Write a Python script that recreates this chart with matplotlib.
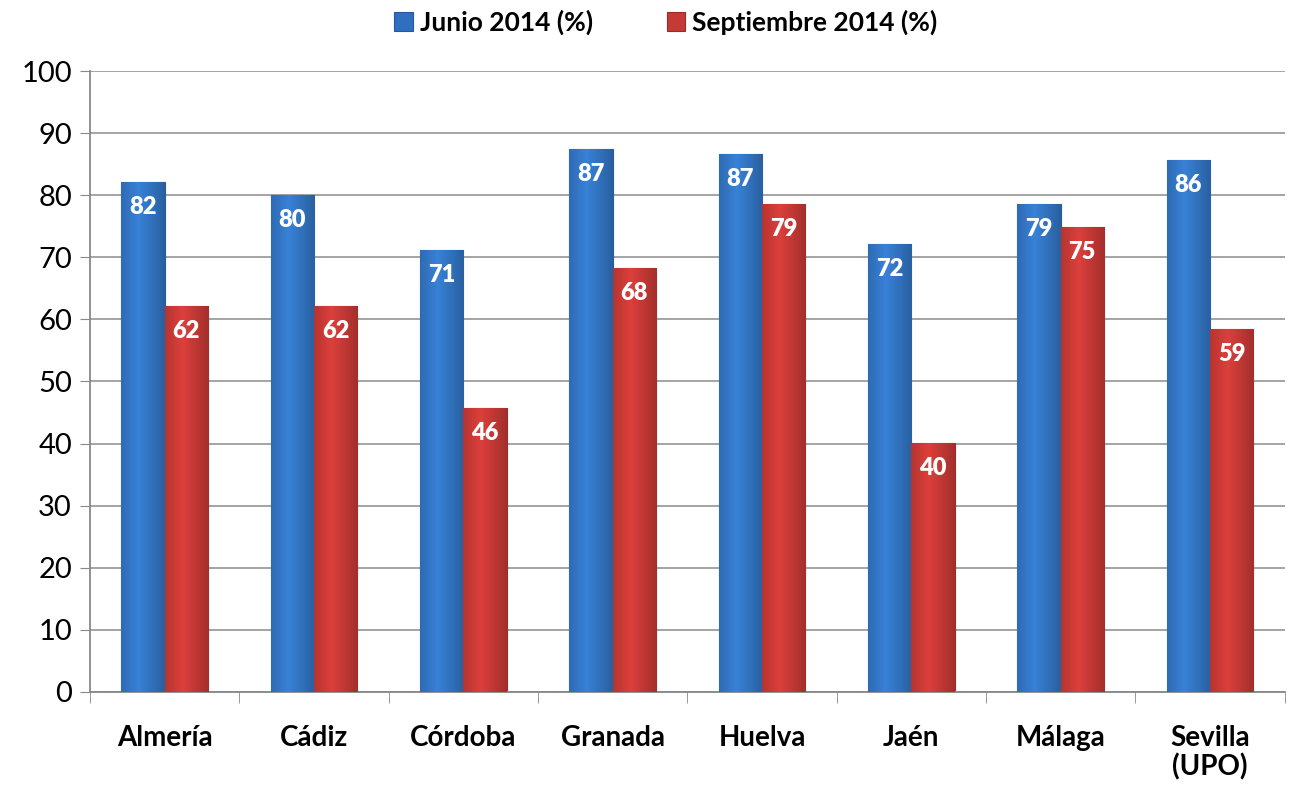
import numpy as np
import matplotlib.pyplot as plt
import matplotlib.colors as mcolors

plt.rcParams['font.family'] = ['Lato', 'DejaVu Sans']

provincias = ["Almería", "Cádiz", "Córdoba", "Granada", "Huelva", "Jaén", "Málaga", "Sevilla\n(UPO)"]
junio = [82.1, 80.0, 71.1, 87.4, 86.6, 72.1, 78.6, 85.7]
septiembre = [62.2, 62.2, 45.7, 68.2, 78.6, 40.1, 74.8, 58.5]
etiquetas_junio = [82, 80, 71, 87, 87, 72, 79, 86]
etiquetas_sept = [62, 62, 46, 68, 79, 40, 75, 59]

fig = plt.figure(figsize=(12.9, 7.89), dpi=100)
ax = fig.add_axes([0.0698, 0.123, 0.926, 0.787])

x = np.arange(len(provincias))
w = 0.29


def gradient_bars(bars, base):
    # horizontal shading: darker edges, light stripe left of centre
    c = np.array(mcolors.to_rgb(base))
    t = np.linspace(0, 1, 64)
    light = 1 - np.abs(t - 0.4) / 0.6
    shade = 0.8 + 0.28 * light
    img = np.clip(c[None, :] * shade[:, None], 0, 1)[None, :, :]
    for b in bars:
        x0, y0 = b.get_x(), b.get_y()
        im = ax.imshow(img, extent=[x0, x0 + b.get_width(), y0, y0 + b.get_height()],
                       aspect='auto', zorder=3, interpolation='bilinear')
        im.set_clip_path(b)


b1 = ax.bar(x - w / 2, junio, w, color='#2f6fbf', edgecolor='#245a9c', linewidth=0.8, zorder=2,
            label='Junio 2014 (%)')
b2 = ax.bar(x + w / 2, septiembre, w, color='#c43a36', edgecolor='#9c2a27', linewidth=0.8, zorder=2,
            label='Septiembre 2014 (%)')
gradient_bars(b1, '#3478c8')
gradient_bars(b2, '#cc3b37')

for i in range(len(x)):
    ax.annotate(str(etiquetas_junio[i]), (x[i] - w / 2, junio[i]), xytext=(0, -10),
                textcoords='offset points', ha='center', va='top', color='white',
                fontsize=17, fontweight='heavy', zorder=5)
    ax.annotate(str(etiquetas_sept[i]), (x[i] + w / 2, septiembre[i]), xytext=(0, -10),
                textcoords='offset points', ha='center', va='top', color='white',
                fontsize=17, fontweight='heavy', zorder=5)

ax.set_xlim(-0.5, len(x) - 0.5)
ax.set_ylim(0, 100)
ax.set_yticks(range(0, 101, 10))
ax.tick_params(axis='y', labelsize=21, length=7, color='#888888', pad=6)
ax.yaxis.grid(True, color='#8c8c8c', linewidth=1.1, zorder=0)
ax.set_axisbelow(True)

ax.set_xticks(x)
ax.set_xticklabels(provincias, fontsize=20, fontweight='bold', linespacing=1.1)
ax.tick_params(axis='x', length=0, pad=24)
ax.set_xticks(np.arange(-0.5, len(x), 1), minor=True)
ax.tick_params(axis='x', which='minor', length=8, color='#888888')

for s in ['top', 'right']:
    ax.spines[s].set_visible(False)
for s in ['left', 'bottom']:
    ax.spines[s].set_color('#888888')
    ax.spines[s].set_linewidth(1.3)

leg = fig.legend(handles=[b1, b2], loc='center', bbox_to_anchor=(0.516, 0.972), ncol=2,
                 frameon=False, prop={'size': 19, 'weight': 'bold'}, handlelength=0.7,
                 handleheight=0.7, handletextpad=0.25, columnspacing=2.8)

fig.savefig('out.png', dpi=100)
